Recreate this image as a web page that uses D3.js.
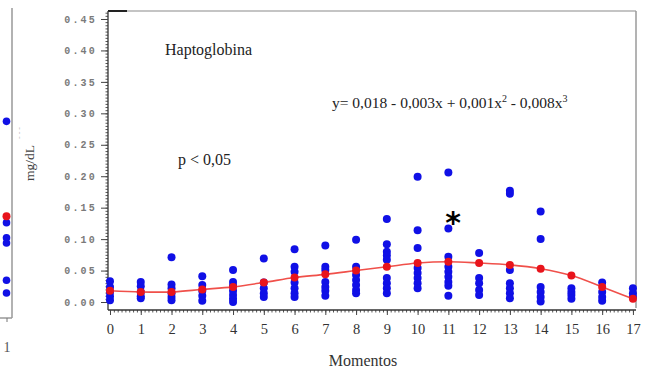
<!DOCTYPE html>
<html>
<head>
<meta charset="utf-8">
<script src="https://cdn.jsdelivr.net/npm/d3@7"></script>
<style>
  body { margin: 0; background: #fff; }
  svg { display: block; }
</style>
</head>
<body>
<svg id="chart" width="652" height="374"></svg>
<script>
// Momentos on the x axis
const momentos = d3.range(0, 18);

// Individual observations (blue), one list per momento
const observaciones = [
  [0.033, 0.024, 0.016, 0.009, 0.003],
  [0.032, 0.025, 0.016, 0.009, 0.006],
  [0.071, 0.028, 0.022, 0.014, 0.008, 0.003],
  [0.041, 0.027, 0.018, 0.010, 0.002],
  [0.051, 0.032, 0.026, 0.018, 0.011, 0.005, 0.0],
  [0.069, 0.031, 0.022, 0.014, 0.008],
  [0.084, 0.056, 0.048, 0.031, 0.022, 0.014, 0.008],
  [0.090, 0.056, 0.051, 0.032, 0.024, 0.018, 0.010],
  [0.099, 0.056, 0.043, 0.035, 0.027, 0.019, 0.014],
  [0.132, 0.092, 0.080, 0.074, 0.067, 0.038, 0.030, 0.022, 0.014],
  [0.199, 0.114, 0.086, 0.054, 0.046, 0.038, 0.030, 0.022],
  [0.206, 0.117, 0.072, 0.056, 0.048, 0.040, 0.032, 0.026, 0.010],
  [0.078, 0.038, 0.030, 0.019, 0.011],
  [0.177, 0.172, 0.051, 0.030, 0.022, 0.014, 0.006],
  [0.144, 0.100, 0.024, 0.016, 0.008, 0.001],
  [0.022, 0.016, 0.011, 0.005],
  [0.031, 0.016, 0.008, 0.002],
  [0.022, 0.014, 0.008]
];

// Fitted (mean) values, red
const ajuste = [0.018, 0.016, 0.016, 0.020, 0.024, 0.031, 0.039, 0.044, 0.050,
                0.056, 0.062, 0.064, 0.062, 0.059, 0.053, 0.042, 0.024, 0.005];

// Cut-off panel on the left edge
const panelIzqAzul = [0.29, 0.106, 0.098, 0.039, 0.019, 0.13];
const panelIzqRojo = [0.14];

const yTicks = d3.range(0, 0.451, 0.05);

const svg = d3.select('#chart');
const serif = '"Liberation Serif", "Times New Roman", serif';

const x = d3.scaleLinear().domain([-0.065, 17.1]).range([108, 636]);
const y = d3.scaleLinear().domain([-0.0127, 0.4627]).range([310, 11]);

// Plot frame (top and right in light gray)
svg.append('line').attr('x1', 108).attr('x2', 636).attr('y1', 11).attr('y2', 11)
  .attr('stroke', '#8a8a8a').attr('stroke-width', 1.2);
svg.append('line').attr('x1', 108).attr('x2', 127).attr('y1', 11).attr('y2', 11)
  .attr('stroke', '#222').attr('stroke-width', 2);
svg.append('line').attr('x1', 636).attr('x2', 636).attr('y1', 11).attr('y2', 308)
  .attr('stroke', '#9a9a9a').attr('stroke-width', 1.5);

// Left axis: minor ticks then major ticks
const yMinor = svg.append('g').attr('transform', 'translate(108,0)')
  .call(d3.axisLeft(y).tickValues(d3.range(0, 0.4626, 0.005)).tickSize(2.5).tickFormat(''));
yMinor.select('.domain').remove();
yMinor.selectAll('line').attr('stroke', '#555');

const yAxis = svg.append('g').attr('transform', 'translate(108,0)')
  .call(d3.axisLeft(y).tickValues(yTicks).tickSize(7).tickPadding(4)
    .tickFormat(d3.format('.2f')));
yAxis.select('.domain').attr('stroke', '#333').attr('stroke-width', 1.3)
  .attr('d', 'M0,11V310');
yAxis.selectAll('line').attr('stroke', '#444');
yAxis.selectAll('text').attr('font-family', '"Liberation Mono", monospace')
  .attr('font-size', 10).attr('letter-spacing', 2.2).attr('fill', '#7a7a7a')
  .attr('font-weight', 'bold');

// Bottom axis: minor ticks then major ticks
const xMinor = svg.append('g').attr('transform', 'translate(0,310)')
  .call(d3.axisBottom(x).tickValues(d3.range(0, 17.01, 0.125)).tickSize(2.5).tickFormat(''));
xMinor.select('.domain').remove();
xMinor.selectAll('line').attr('stroke', '#555');

const xAxis = svg.append('g').attr('transform', 'translate(0,310)')
  .call(d3.axisBottom(x).tickValues(momentos).tickSize(5).tickPadding(9));
xAxis.select('.domain').attr('stroke', '#333').attr('stroke-width', 1.3)
  .attr('d', 'M108,0H636');
xAxis.selectAll('line').attr('stroke', '#444');
xAxis.selectAll('text').attr('font-family', serif).attr('font-size', 14.5).attr('fill', '#333');

svg.append('text').attr('x', 363).attr('y', 366).attr('text-anchor', 'middle')
  .attr('font-family', serif).attr('font-size', 16).attr('fill', '#333').text('Momentos');

// Observations
const puntos = [];
observaciones.forEach((vals, i) => vals.forEach(v => puntos.push({ m: momentos[i], v })));

svg.append('g').selectAll('circle').data(puntos).enter().append('circle')
  .attr('cx', d => x(d.m)).attr('cy', d => y(d.v)).attr('r', 4)
  .attr('fill', '#1010e6');

// Fitted curve and its points
const linea = d3.line().x((d, i) => x(momentos[i])).y(d => y(d)).curve(d3.curveCatmullRom);
svg.append('path').datum(ajuste).attr('d', linea)
  .attr('fill', 'none').attr('stroke', '#f0504a').attr('stroke-width', 1.6);
svg.append('g').selectAll('circle').data(ajuste).enter().append('circle')
  .attr('cx', (d, i) => x(momentos[i])).attr('cy', d => y(d)).attr('r', 4)
  .attr('fill', '#e8141c');

// Annotations
svg.append('text').attr('x', 165).attr('y', 55).attr('font-family', serif)
  .attr('font-size', 16).attr('fill', '#222').text('Haptoglobina');
svg.append('text').attr('x', 178).attr('y', 165).attr('font-family', serif)
  .attr('font-size', 16).attr('fill', '#222').text('p < 0,05');

const ec = svg.append('text').attr('x', 332).attr('y', 108).attr('font-family', serif)
  .attr('font-size', 15.5).attr('fill', '#222');
ec.append('tspan').text('y= 0,018 - 0,003x + 0,001x');
ec.append('tspan').attr('dy', -6).attr('font-size', 10).text('2');
ec.append('tspan').attr('dy', 6).text(' - 0,008x');
ec.append('tspan').attr('dy', -6).attr('font-size', 10).text('3');

svg.append('text').attr('x', 453).attr('y', 233).attr('text-anchor', 'middle')
  .attr('font-family', '"DejaVu Sans", sans-serif').attr('font-weight', 'bold')
  .attr('font-size', 30).attr('fill', '#000').text('*');

// Left cut-off panel
const yIzq = d3.scaleLinear().domain([0, 0.45]).range([305, 20]);
svg.append('line').attr('x1', 12).attr('x2', 12).attr('y1', 8).attr('y2', 318)
  .attr('stroke', '#999').attr('stroke-width', 1.5);
svg.append('line').attr('x1', 0).attr('x2', 12).attr('y1', 318).attr('y2', 318)
  .attr('stroke', '#999').attr('stroke-width', 1.5);
svg.append('line').attr('x1', 7).attr('x2', 7).attr('y1', 318).attr('y2', 322)
  .attr('stroke', '#777');
svg.append('g').selectAll('circle').data(panelIzqAzul).enter().append('circle')
  .attr('cx', 6.5).attr('cy', d => yIzq(d)).attr('r', 3.8).attr('fill', '#1010e6');
svg.append('g').selectAll('circle').data(panelIzqRojo).enter().append('circle')
  .attr('cx', 6.5).attr('cy', d => yIzq(d)).attr('r', 4).attr('fill', '#e8141c');
svg.append('text').attr('x', 7).attr('y', 352).attr('text-anchor', 'middle')
  .attr('font-family', serif).attr('font-size', 14).attr('fill', '#555').text('1');

svg.append('text').attr('transform', 'translate(34,163) rotate(-90)')
  .attr('text-anchor', 'middle').attr('font-family', serif).attr('font-size', 13.5)
  .attr('fill', '#444').text('mg/dL');
svg.append('text').attr('transform', 'translate(22,133) rotate(-90)')
  .attr('text-anchor', 'middle').attr('font-family', serif).attr('font-size', 8)
  .attr('fill', '#bbb').text('- - -');
</script>
</body>
</html>
